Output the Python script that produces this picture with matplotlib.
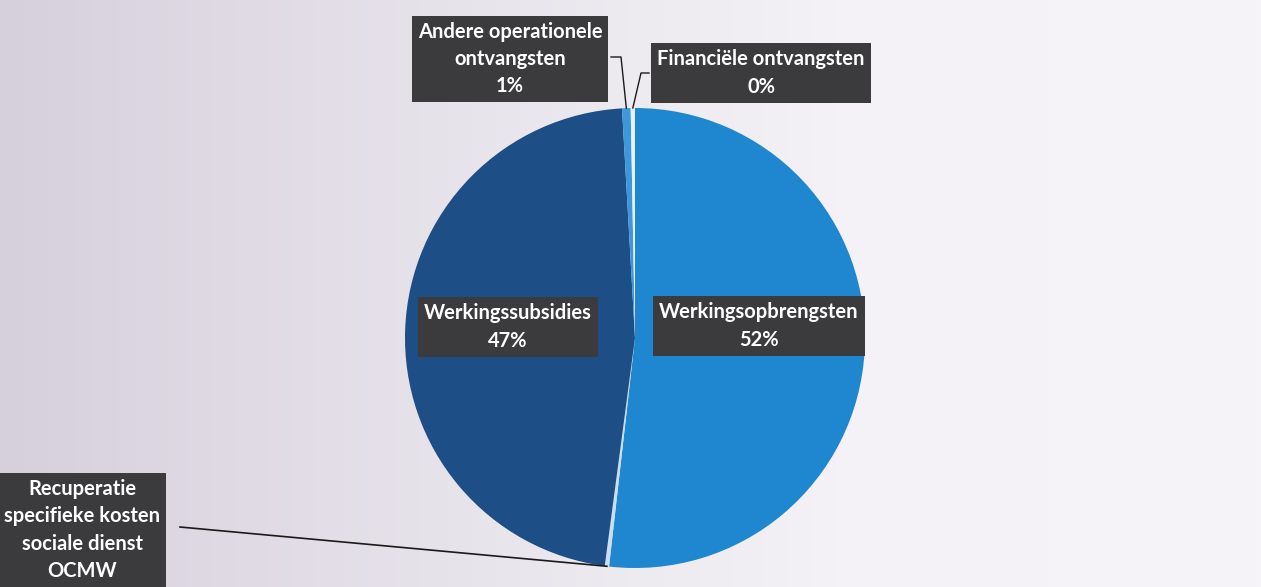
import numpy as np
import matplotlib
matplotlib.use("Agg")
import matplotlib.pyplot as plt
from matplotlib.colors import LinearSegmentedColormap

# ---- data ----
categories = ["Werkingsopbrengsten",
              "Recuperatie\nspecifieke kosten\nsociale dienst\nOCMW",
              "Werkingssubsidies",
              "Andere operationele\nontvangsten",
              "Financiële ontvangsten"]
values = [51.8, 0.3, 47.0, 0.6, 0.3]
pct_labels = ["52%", None, "47%", "1%", "0%"]
colors = ["#1f86d0", "#c9def0", "#1d4e86", "#3d97dc", "#e8f1fa"]

W, H = 1261, 587
fig = plt.figure(figsize=(W / 100, H / 100), dpi=100)
ax = fig.add_axes([0, 0, 1, 1])
ax.set_xlim(0, W)
ax.set_ylim(0, H)
ax.set_aspect("equal")
ax.axis("off")

# background gradient (scanned grey to white)
grad = np.linspace(0, 1, 256).reshape(1, -1)
cmap = LinearSegmentedColormap.from_list("bg", ["#d6d0dc", "#e6e2ea", "#f4f2f6", "#f6f4f8"])
ax.imshow(grad, extent=(0, W, 0, H), cmap=cmap, aspect="auto", zorder=0)

cx, cy, r = 635, H - 338, 230
wedges, _ = ax.pie(values, colors=colors, startangle=90, counterclock=False,
                   center=(cx, cy), radius=r, frame=True,
                   wedgeprops=dict(linewidth=0))
for w in wedges:
    w.set_zorder(2)
ax.set_xlim(0, W)
ax.set_ylim(0, H)
ax.axis("off")

font = ["Lato", "DejaVu Sans"]
box = dict(boxstyle="square,pad=0.3", facecolor="#3b3b3d", edgecolor="none")

def label_text(i):
    t = categories[i]
    if pct_labels[i] is not None:
        t += "\n" + pct_labels[i]
    return t

# label positions (figure px, y from top)
label_pos = {0: (759, 326), 2: (508, 327), 3: (510, 59), 4: (761, 73), 1: (82, 530)}
for i, (lx, ly) in label_pos.items():
    ax.text(lx, H - ly, label_text(i), ha="center", va="center", color="white",
            fontsize=14.5, fontweight="bold", family=font, linespacing=1.45,
            bbox=box, zorder=5)

def edge_point(w):
    mid = np.deg2rad((w.theta1 + w.theta2) / 2)
    return cx + r * np.cos(mid), cy + r * np.sin(mid)

# leader lines
px, py = edge_point(wedges[3])
ax.plot([611, 621, px], [H - 57, H - 57, py], color="#1a1a1a", lw=1, zorder=4)
px, py = edge_point(wedges[4])
ax.plot([649, 641, px], [H - 73, H - 73, py], color="#1a1a1a", lw=1, zorder=4)
px, py = edge_point(wedges[1])
ax.plot([180, px], [H - 527, py], color="#1a1a1a", lw=1.2, zorder=4)

fig.savefig("out.png", dpi=100)
